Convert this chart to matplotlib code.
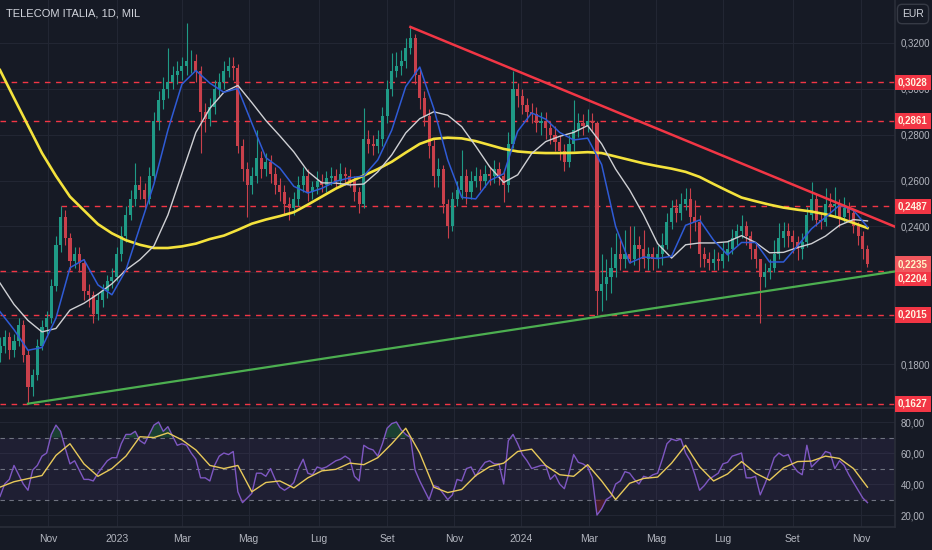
import numpy as np
import pandas as pd
import matplotlib
matplotlib.use("Agg")
import matplotlib.pyplot as plt
from matplotlib.transforms import blended_transform_factory, offset_copy

plt.rcParams['font.family'] = ['Liberation Sans', 'DejaVu Sans']

# trading sessions (weekends removed, like the TradingView time scale)
days = pd.bdate_range('2022-09-19', periods=600)

# 3-session candles starting 2022-09-19 (open = previous close)
first_open = 0.185
closes = [
    0.188, 0.192, 0.186, 0.190, 0.197, 0.184, 0.170, 0.175, 0.188, 0.196,
    0.200, 0.214, 0.232, 0.244, 0.235, 0.225, 0.228, 0.224, 0.212, 0.210,
    0.202, 0.208, 0.212, 0.216, 0.218, 0.228, 0.236, 0.245, 0.252, 0.258,
    0.256, 0.252, 0.262, 0.286, 0.295, 0.300, 0.303, 0.306, 0.308, 0.310,
    0.312, 0.312, 0.308, 0.290, 0.287, 0.292, 0.300, 0.303, 0.308, 0.310,
    0.309, 0.275, 0.265, 0.258, 0.262, 0.270, 0.265, 0.268, 0.263, 0.258,
    0.255, 0.250, 0.248, 0.252, 0.258, 0.262, 0.255, 0.257, 0.260, 0.258,
    0.261, 0.262, 0.260, 0.263, 0.262, 0.260, 0.255, 0.250, 0.278, 0.276,
    0.275, 0.278, 0.288, 0.300, 0.308, 0.310, 0.312, 0.318, 0.322, 0.306,
    0.296, 0.288, 0.275, 0.262, 0.265, 0.250, 0.240, 0.252, 0.256, 0.262,
    0.255, 0.260, 0.262, 0.260, 0.263, 0.262, 0.265, 0.262, 0.258, 0.276,
    0.300, 0.297, 0.293, 0.290, 0.289, 0.285, 0.286, 0.283, 0.280, 0.277,
    0.273, 0.268, 0.276, 0.282, 0.285, 0.284, 0.286, 0.285, 0.212, 0.215,
    0.218, 0.222, 0.228, 0.226, 0.228, 0.226, 0.232, 0.230, 0.226, 0.228,
    0.226, 0.228, 0.232, 0.242, 0.248, 0.246, 0.250, 0.252, 0.244, 0.242,
    0.228, 0.226, 0.224, 0.226, 0.225, 0.228, 0.230, 0.235, 0.238, 0.240,
    0.236, 0.230, 0.226, 0.218, 0.220, 0.222, 0.228, 0.235, 0.238, 0.236,
    0.233, 0.230, 0.233, 0.245, 0.252, 0.243, 0.242, 0.250, 0.249, 0.250,
    0.244, 0.248, 0.246, 0.240, 0.236, 0.230, 0.2235]
highs = [
    0.192, 0.195, 0.194, 0.193, 0.200, 0.199, 0.186, 0.178, 0.191, 0.199,
    0.203, 0.217, 0.236, 0.2487, 0.247, 0.237, 0.231, 0.231, 0.226, 0.215,
    0.212, 0.211, 0.215, 0.219, 0.222, 0.231, 0.240, 0.249, 0.256, 0.2677,
    0.262, 0.259, 0.266, 0.290, 0.299, 0.305, 0.318, 0.310, 0.312, 0.314,
    0.3287, 0.317, 0.315, 0.310, 0.294, 0.296, 0.304, 0.307, 0.312, 0.314,
    0.314, 0.311, 0.278, 0.268, 0.266, 0.282, 0.273, 0.272, 0.271, 0.266,
    0.261, 0.258, 0.253, 0.255, 0.262, 0.266, 0.265, 0.260, 0.264, 0.263,
    0.264, 0.266, 0.265, 0.2677, 0.266, 0.265, 0.262, 0.257, 0.2916, 0.282,
    0.280, 0.282, 0.292, 0.304, 0.3156, 0.316, 0.317, 0.322, 0.327, 0.324,
    0.309, 0.299, 0.291, 0.278, 0.270, 0.267, 0.252, 0.255, 0.260, 0.2733,
    0.265, 0.264, 0.266, 0.265, 0.267, 0.266, 0.269, 0.268, 0.264, 0.281,
    0.308, 0.3025, 0.300, 0.296, 0.294, 0.292, 0.290, 0.290, 0.286, 0.284,
    0.280, 0.276, 0.280, 0.295, 0.2896, 0.289, 0.291, 0.2896, 0.286, 0.228,
    0.226, 0.231, 0.237, 0.234, 0.2385, 0.240, 0.240, 0.236, 0.2385, 0.231,
    0.231, 0.232, 0.237, 0.246, 0.2515, 0.252, 0.2545, 0.2567, 0.2567, 0.2516,
    0.245, 0.231, 0.229, 0.230, 0.229, 0.233, 0.234, 0.239, 0.241, 0.245,
    0.2425, 0.238, 0.233, 0.2254, 0.224, 0.226, 0.234, 0.2415, 0.242, 0.2415,
    0.2385, 0.236, 0.237, 0.2485, 0.2594, 0.254, 0.2458, 0.2567, 0.2546, 0.257,
    0.252, 0.253, 0.2505, 0.247, 0.242, 0.238, 0.232]
lows = [
    0.181, 0.185, 0.182, 0.183, 0.188, 0.181, 0.1627, 0.166, 0.173, 0.186,
    0.193, 0.198, 0.212, 0.229, 0.232, 0.221, 0.222, 0.220, 0.208, 0.205,
    0.198, 0.199, 0.205, 0.209, 0.213, 0.216, 0.225, 0.233, 0.243, 0.249,
    0.252, 0.248, 0.250, 0.260, 0.282, 0.291, 0.296, 0.300, 0.302, 0.304,
    0.306, 0.307, 0.303, 0.272, 0.281, 0.284, 0.289, 0.297, 0.300, 0.305,
    0.304, 0.272, 0.260, 0.244, 0.254, 0.259, 0.261, 0.262, 0.259, 0.254,
    0.251, 0.245, 0.243, 0.245, 0.249, 0.255, 0.251, 0.252, 0.254, 0.255,
    0.255, 0.258, 0.257, 0.257, 0.258, 0.257, 0.251, 0.2458, 0.248, 0.272,
    0.271, 0.272, 0.275, 0.285, 0.297, 0.305, 0.306, 0.309, 0.315, 0.302,
    0.291, 0.284, 0.270, 0.257, 0.257, 0.246, 0.235, 0.238, 0.249, 0.252,
    0.250, 0.252, 0.257, 0.256, 0.257, 0.258, 0.259, 0.258, 0.2506, 0.255,
    0.274, 0.292, 0.289, 0.286, 0.285, 0.281, 0.280, 0.278, 0.276, 0.273,
    0.269, 0.264, 0.266, 0.273, 0.279, 0.280, 0.281, 0.281, 0.2015, 0.203,
    0.208, 0.211, 0.218, 0.221, 0.222, 0.224, 0.223, 0.2205, 0.222, 0.221,
    0.221, 0.222, 0.223, 0.230, 0.239, 0.242, 0.243, 0.247, 0.2305, 0.238,
    0.2223, 0.2223, 0.221, 0.221, 0.221, 0.222, 0.225, 0.228, 0.232, 0.235,
    0.232, 0.226, 0.222, 0.198, 0.2136, 0.217, 0.220, 0.226, 0.231, 0.231,
    0.2285, 0.2253, 0.226, 0.231, 0.243, 0.240, 0.239, 0.240, 0.2458, 0.244,
    0.2397, 0.242, 0.243, 0.237, 0.232, 0.226, 0.2222]

# moving averages, one value every 9 sessions
ma_yellow = [
    0.3082, 0.296, 0.284, 0.272, 0.262, 0.253, 0.247, 0.241, 0.237, 0.234,
    0.232, 0.2306, 0.2306, 0.2313, 0.2325, 0.2345, 0.236, 0.2385, 0.2412, 0.2430,
    0.2445, 0.2462, 0.2495, 0.2530, 0.2565, 0.2594, 0.2622, 0.2650, 0.2682, 0.2722,
    0.2760, 0.2782, 0.2787, 0.2784, 0.2772, 0.2755, 0.2738, 0.2727, 0.2722, 0.2720,
    0.2720, 0.2721, 0.2724, 0.2720, 0.2705, 0.2690, 0.2675, 0.2663, 0.2652, 0.2638,
    0.2616, 0.2585, 0.2555, 0.2526, 0.2510, 0.2495, 0.2482, 0.2473, 0.2465, 0.2453,
    0.2437, 0.2415, 0.2393]
ma_white = [
    0.2153, 0.206, 0.199, 0.194, 0.1955, 0.2035, 0.2065, 0.2105, 0.215, 0.221,
    0.2255, 0.2315, 0.245, 0.263, 0.281, 0.2915, 0.2985, 0.3015, 0.2940, 0.2862,
    0.2795, 0.2725, 0.2640, 0.2590, 0.2589, 0.2581, 0.2585, 0.2638, 0.2712, 0.2808,
    0.2870, 0.2900, 0.2885, 0.2835, 0.2750, 0.2660, 0.2592, 0.2625, 0.2718, 0.2770,
    0.2793, 0.2810, 0.2840, 0.2760, 0.2650, 0.2559, 0.2450, 0.2325, 0.2262, 0.2320,
    0.2328, 0.2328, 0.2333, 0.2360, 0.2330, 0.2285, 0.2287, 0.2308, 0.2325, 0.2358,
    0.2405, 0.2430, 0.2424]
ma_blue = [
    0.2028, 0.195, 0.186, 0.1872, 0.200, 0.222, 0.2255, 0.2145, 0.2102, 0.221,
    0.2398, 0.2585, 0.282, 0.302, 0.3080, 0.3025, 0.2985, 0.3002, 0.2850, 0.2700,
    0.2655, 0.2575, 0.2546, 0.2566, 0.2597, 0.2612, 0.2620, 0.2690, 0.2820, 0.3010,
    0.3095, 0.2915, 0.2690, 0.2527, 0.2520, 0.2600, 0.2630, 0.2815, 0.2895, 0.2868,
    0.2810, 0.2777, 0.2785, 0.2670, 0.2400, 0.2241, 0.2267, 0.2260, 0.2270, 0.2405,
    0.2428, 0.2340, 0.2276, 0.2330, 0.2330, 0.2245, 0.2245, 0.2315, 0.2390, 0.2440,
    0.2493, 0.2470, 0.2398]

# RSI every 3 sessions, its moving average every 9 sessions
rsi = [
    32, 40, 43, 52, 46, 40, 36, 49, 52, 58,
    60, 72, 78, 74, 63, 53, 55, 49, 43, 43,
    42, 47, 51, 55, 57, 57, 66, 72, 72, 74,
    68, 66, 72, 78, 80, 74, 77, 71, 65, 66,
    65, 60, 56, 44, 44, 42, 52, 58, 60, 59,
    61, 35, 28, 31, 34, 47, 47, 45, 50, 43,
    38, 36, 38, 41, 50, 56, 47, 46, 51, 50,
    51, 53, 55, 56, 58, 56, 45, 42, 65, 63,
    62, 58, 66, 76, 79, 80, 75, 72, 70, 49,
    42, 36, 30, 39, 38, 34, 30, 33, 43, 42,
    50, 51, 45, 50, 54, 55, 53, 53, 40, 68,
    72, 66, 59, 55, 50, 51, 52, 52, 43, 46,
    40, 37, 47, 59, 54, 53, 51, 44, 20, 24,
    30, 32, 40, 42, 48, 47, 43, 40, 45, 44,
    46, 47, 56, 66, 69, 68, 69, 60, 55, 46,
    36, 39, 43, 45, 47, 53, 54, 58, 59, 60,
    44, 44, 45, 33, 40, 48, 57, 60, 58, 59,
    52, 48, 46, 65, 51, 54, 57, 61, 60, 50,
    55, 52, 46, 41, 36, 31, 28]
rsi_ma = [
    38, 41.5, 43.5, 45.5, 58.5, 66, 53, 45, 50, 58,
    70.5, 70, 73, 68.5, 62, 52, 50, 52, 35, 41,
    42, 37.5, 44, 48.5, 49.5, 53.5, 52.5, 57, 66, 76,
    60, 38, 34.5, 36.5, 45.5, 51.2, 53.5, 61, 62.5, 52,
    46, 45, 52.5, 42, 30, 40.5, 43.6, 44.5, 53.5, 65,
    51.2, 42, 46.5, 54.5, 47, 42.5, 50.5, 54.5, 54.8, 58,
    56.5, 50, 38]

levels = [0.3028, 0.2861, 0.2487, 0.2204, 0.2015, 0.1627]
level_from = [None, None, '2022-11-11', None, None, None]
last_price = 0.2235

red_trend_dates = ['2023-09-22', '2024-12-03']
red_trend_prices = [0.3270, 0.2398]
green_trend_dates = ['2022-10-13', '2024-12-03']
green_trend_prices = [0.1627, 0.2204]

price_ticks = [0.18, 0.20, 0.22, 0.24, 0.26, 0.28, 0.30, 0.32]
hidden_ticks = [0.20, 0.22]   # covered by the level boxes

month_starts = ['2022-11-01', '2023-01-01', '2023-03-01', '2023-05-01', '2023-07-01',
                '2023-09-01', '2023-11-01', '2024-01-01', '2024-03-01', '2024-05-01',
                '2024-07-01', '2024-09-01', '2024-11-01']
month_labels = ['Nov', '2023', 'Mar', 'Mag', 'Lug', 'Set', 'Nov', '2024', 'Mar', 'Mag',
                'Lug', 'Set', 'Nov']

bg = '#161a25'
grid_c = '#222633'
txt = '#b2b5be'
up_c = '#1f9a86'
down_c = '#c9404b'
lvl_c = '#f23645'

W, H = 932, 550
fig = plt.figure(figsize=(W / 100, H / 100), dpi=100, facecolor=bg)
ax = fig.add_axes([0, 1 - 408 / H, 895 / W, 408 / H], facecolor=bg)
ax2 = fig.add_axes([0, 1 - 527 / H, 895 / W, 118 / H], facecolor=bg, sharex=ax)


def pos(d):
    return days.get_loc(pd.Timestamp(d))


def fmt(v, nd=4):
    return f'{v:.{nd}f}'.replace('.', ',')


# candles
o = np.array([first_open] + closes[:-1])
c = np.array(closes)
cx = np.arange(len(closes)) * 3
cols = np.where(c >= o, up_c, down_c)
ax.vlines(cx, lows, highs, colors=cols, lw=0.8, zorder=3)
ax.bar(cx, c - o, bottom=o, width=2.0, color=cols, linewidth=0, zorder=3)

# moving averages
mx = np.arange(len(ma_yellow)) * 9
ax.plot(mx, ma_yellow, color='#f4e23c', lw=1.9, zorder=4)
ax.plot(mx, ma_white, color='#cfd0d4', lw=1.0, zorder=4)
ax.plot(mx, ma_blue, color='#2f5bd6', lw=1.1, zorder=4)

# horizontal levels
for lv, start in zip(levels, level_from):
    x0 = pos(start) if start else 0
    ax.plot([x0, 580], [lv, lv], color=lvl_c, lw=1.0, ls=(0, (4, 4)), zorder=2)

# trend lines
ax.plot([pos(d) for d in red_trend_dates], red_trend_prices, color='#f23645', lw=1.8, zorder=5)
ax.plot([pos(d) for d in green_trend_dates], green_trend_prices, color='#4caf50', lw=1.6, zorder=5)

ax.set_xlim(0, 575.7)
ax.set_ylim(0.16082, 0.33875)
ax.set_yticks(price_ticks)
ax.set_yticklabels(['' if v in hidden_ticks else fmt(v) for v in price_ticks])
ax.yaxis.tick_right()
ax.tick_params(axis='y', length=0, pad=4, labelsize=7, colors=txt)
ax.tick_params(axis='x', length=0, labelbottom=False)

mpos = [days.searchsorted(pd.Timestamp(d)) for d in month_starts]
ax2.set_xticks(mpos)
ax2.set_xticklabels(month_labels)
ax2.tick_params(axis='x', length=0, pad=5, labelsize=7.5, colors=txt)

for a in (ax, ax2):
    a.grid(True, color=grid_c, lw=0.8, zorder=0)
    a.set_axisbelow(True)
    for s in ('left', 'top'):
        a.spines[s].set_visible(False)
    for s in ('right', 'bottom'):
        a.spines[s].set_color('#2a2e39')
        a.spines[s].set_linewidth(1.2)

# RSI pane
rx = np.arange(len(rsi)) * 3
rv = np.array(rsi, dtype=float)
ax2.axhspan(30, 70, color='#7e57c2', alpha=0.09, lw=0, zorder=1)
for lv in (70, 50, 30):
    ax2.axhline(lv, color='#6f7380', lw=0.8, ls=(0, (4, 4)), zorder=2)
ax2.fill_between(rx, rv, 70, where=rv > 70, interpolate=True, color='#1d5a3c', alpha=0.6, lw=0, zorder=2)
ax2.fill_between(rx, rv, 30, where=rv < 30, interpolate=True, color='#6b1f2a', alpha=0.6, lw=0, zorder=2)
ax2.plot(rx, rv, color='#7e57c2', lw=1.0, zorder=3)
ax2.plot(np.arange(len(rsi_ma)) * 9, rsi_ma, color='#e8c95a', lw=1.0, zorder=4)
ax2.set_ylim(12.3, 88.4)
ax2.set_yticks([20, 40, 60, 80])
ax2.set_yticklabels([fmt(v, 2) for v in (20, 40, 60, 80)])
ax2.yaxis.tick_right()
ax2.tick_params(axis='y', length=0, pad=4, labelsize=7, colors=txt)

# price labels on the right scale
trans = blended_transform_factory(fig.transFigure, ax.transData)
for lv in levels:
    t = trans
    if lv == 0.2204:
        t = offset_copy(trans, fig=fig, y=-7, units='dots')
    fig.text(898 / W, lv, fmt(lv), transform=t, ha='left', va='center',
             fontsize=7, color='#fff4e0', fontweight='bold', zorder=6,
             bbox=dict(boxstyle='square,pad=0.3', fc='#f23645', ec='none'))
fig.text(898 / W, last_price, fmt(last_price), transform=trans, ha='left',
         va='center', fontsize=7, color='#fff4c8', fontweight='bold', zorder=7,
         bbox=dict(boxstyle='square,pad=0.3', fc='#f0575d', ec='none'))

fig.text(913 / W, 1 - 14 / H, 'EUR', ha='center', va='center', fontsize=7.5, color='#d1d4dc',
         bbox=dict(boxstyle='round,pad=0.45', fc=bg, ec='#363a45'))
fig.text(6 / W, 1 - 14 / H, 'TELECOM ITALIA, 1D, MIL', ha='left', va='center', fontsize=8,
         color='#d1d4dc')

fig.savefig('out.png', dpi=100, facecolor=bg)
